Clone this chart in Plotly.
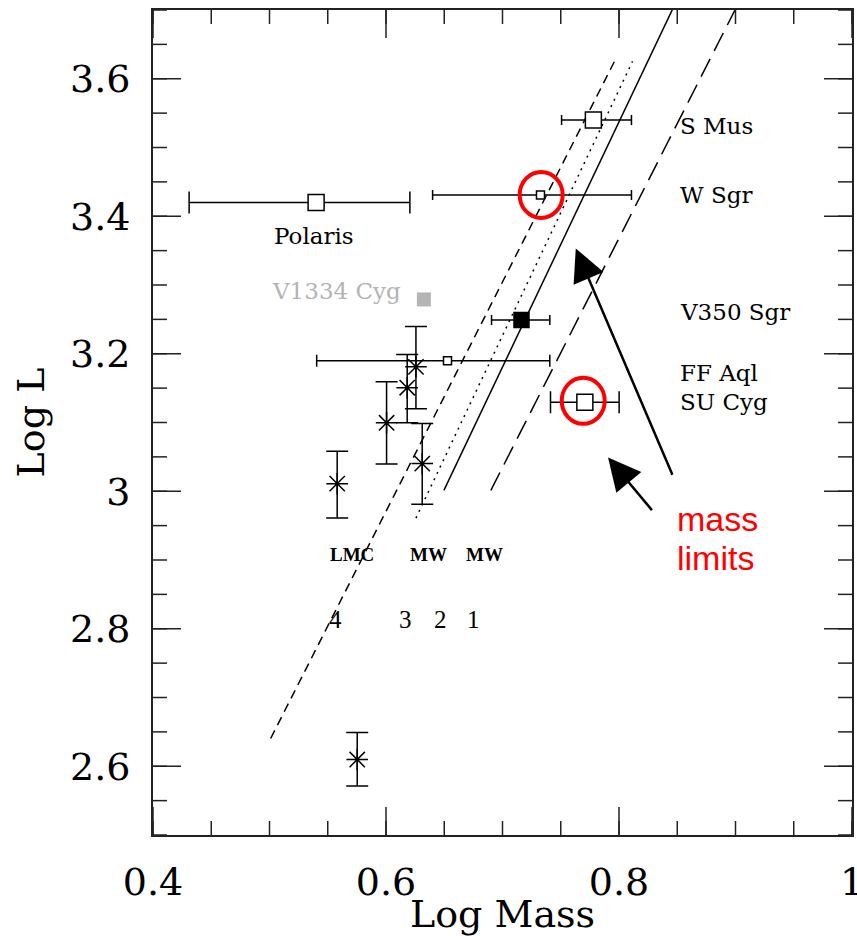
import plotly.graph_objects as go

# ---------------- data ----------------
x_tickvals = [0.4, 0.6, 0.8, 1.0]
x_ticktext = ["0.4", "0.6", "0.8", "1"]
y_tickvals = [2.6, 2.8, 3.0, 3.2, 3.4, 3.6]
y_ticktext = ["2.6", "2.8", "3", "3.2", "3.4", "3.6"]
x_minor = [round(0.40 + 0.05 * i, 2) for i in range(13)]
y_minor = [round(2.50 + 0.05 * i, 2) for i in range(25)]

# Cepheids with dynamical masses (log M, log L, log M range)
cep_names = ["Polaris", "S Mus", "W Sgr", "FF Aql", "SU Cyg", "V350 Sgr"]
cep_logm = [0.540, 0.778, 0.7326, 0.6528, 0.7707, 0.7163]
cep_logl = [3.420, 3.540, 3.431, 3.190, 3.1296, 3.249]
cep_m_lo = [0.431, 0.7507, 0.640, 0.5405, 0.7412, 0.6906]
cep_m_hi = [0.6205, 0.8107, 0.8107, 0.7406, 0.8001, 0.7406]

# V1334 Cyg (grey point)
v1334_logm = [0.6325]
v1334_logl = [3.279]

# other stars (asterisks)
ast_logm = [0.5581, 0.6005, 0.6182, 0.6257, 0.6311, 0.5753]
ast_logl = [3.011, 3.0996, 3.1506, 3.181, 3.0402, 2.6098]
ast_l_hi = [3.0582, 3.1593, 3.199, 3.2395, 3.0985, 2.649]
ast_l_lo = [2.961, 3.0398, 3.0996, 3.120, 2.981, 2.5713]

# mass-luminosity relations 4 (LMC), 3, 2, 1 (MW)
rel_names = ["4", "3", "2", "1"]
rel_m = [[0.501, 0.7964], [0.6257, 0.8116], [0.6497, 0.8462], [0.690, 0.8994]]
rel_l = [[2.6404, 3.6262], [2.961, 3.6252], [3.0013, 3.702], [3.0013, 3.6995]]

# right-hand star labels
lab_names = ["S Mus", "W Sgr", "V350 Sgr", "FF Aql", "SU Cyg"]
lab_x = [0.8505, 0.8505, 0.8505, 0.8505, 0.8505]
lab_y = [3.532, 3.4314, 3.2611, 3.1714, 3.1299]

# relation labels
rel_lab_text = ["LMC", "MW", "MW"]
rel_lab_x = [0.5705, 0.6362, 0.6849]
rel_lab_y = [2.908, 2.908, 2.908]
rel_num_x = [0.5570, 0.6168, 0.6471, 0.6748]
rel_num_y = [2.8128, 2.8128, 2.8128, 2.8128]

# red highlight circles (centres)
circ_x = [0.7332, 0.7693]
circ_y = [3.431, 3.1316]

# arrows: tip and tail
arr_tip_x = [0.7629, 0.7906]
arr_tip_y = [3.3532, 3.0491]
arr_tail_x = [0.8464, 0.8293]
arr_tail_y = [3.0218, 2.9704]

X_RANGE = [0.4, 1.0]
Y_RANGE = [2.5, 3.7]

# ---------------- styles ----------------
SERIF = "DejaVu Serif"
AXC = "#222222"
cep_style = {
    "Polaris": dict(size=16, fill="white", cap=11),
    "S Mus": dict(size=16, fill="white", cap=5),
    "W Sgr": dict(size=8, fill="white", cap=5),
    "FF Aql": dict(size=8, fill="white", cap=6),
    "SU Cyg": dict(size=16, fill="white", cap=11),
    "V350 Sgr": dict(size=15, fill="black", cap=5),
}
rel_dash = {"4": "9px,6px", "3": "2px,5px", "2": "solid", "1": "20px,9px"}

fig = go.Figure()


# inward tick marks on all four sides (half of each marker is clipped by the plot area)
def add_ticks(vals, size):
    n = len(vals)
    specs = [
        (vals, [Y_RANGE[0]] * n, "line-ns"),
        (vals, [Y_RANGE[1]] * n, "line-ns"),
    ]
    for xs, ys, sym in specs:
        fig.add_trace(go.Scatter(x=xs, y=ys, mode="markers", cliponaxis=True,
                                 marker=dict(symbol=sym, size=size,
                                             line=dict(color=AXC, width=1.5)),
                                 showlegend=False, hoverinfo="skip"))


def add_yticks(vals, size):
    n = len(vals)
    for xe in X_RANGE:
        fig.add_trace(go.Scatter(x=[xe] * n, y=vals, mode="markers", cliponaxis=True,
                                 marker=dict(symbol="line-ew", size=size,
                                             line=dict(color=AXC, width=1.5)),
                                 showlegend=False, hoverinfo="skip"))


add_ticks(x_minor, 20)
add_ticks(x_tickvals, 40)
add_yticks(y_minor, 20)
add_yticks(y_tickvals, 40)

for n, m, l in zip(rel_names, rel_m, rel_l):
    fig.add_trace(go.Scatter(x=m, y=l, mode="lines",
                             line=dict(color="black", width=1.5, dash=rel_dash[n]),
                             showlegend=False, hoverinfo="skip"))

for n, m, l, lo, hi in zip(cep_names, cep_logm, cep_logl, cep_m_lo, cep_m_hi):
    st = cep_style[n]
    fig.add_trace(go.Scatter(
        x=[m], y=[l], mode="markers",
        marker=dict(symbol="square", size=st["size"], color=st["fill"],
                    line=dict(color="black", width=1.5)),
        error_x=dict(type="data", symmetric=False, array=[hi - m], arrayminus=[m - lo],
                     color="black", thickness=1.5, width=st["cap"]),
        showlegend=False, name=n))

fig.add_trace(go.Scatter(x=v1334_logm, y=v1334_logl, mode="markers",
                         marker=dict(symbol="square", size=14, color="#b4b4b4",
                                     line=dict(width=0)),
                         showlegend=False, name="V1334 Cyg"))

fig.add_trace(go.Scatter(
    x=ast_logm, y=ast_logl, mode="markers",
    marker=dict(symbol="asterisk-open", size=18, color="black",
                line=dict(color="black", width=1.5)),
    error_y=dict(type="data", symmetric=False,
                 array=[h - v for h, v in zip(ast_l_hi, ast_logl)],
                 arrayminus=[v - lo for v, lo in zip(ast_logl, ast_l_lo)],
                 color="black", thickness=1.5, width=11),
    showlegend=False))

ann = []
for t, x, y in zip(lab_names, lab_x, lab_y):
    ann.append(dict(x=x, y=y, text=t, showarrow=False, xanchor="left", yanchor="middle",
                    font=dict(family=SERIF, size=23, color="black")))
ann.append(dict(x=0.5381, y=3.3716, text="Polaris", showarrow=False, xanchor="center",
                yanchor="middle", font=dict(family=SERIF, size=23, color="black")))
ann.append(dict(x=0.5004, y=3.2914, text="V1334 Cyg", showarrow=False, xanchor="left",
                yanchor="middle", font=dict(family=SERIF, size=23, color="#b4b4b4")))
for t, x, y in zip(rel_lab_text, rel_lab_x, rel_lab_y):
    ann.append(dict(x=x, y=y, text="<b>%s</b>" % t, showarrow=False, xanchor="center",
                    yanchor="middle", font=dict(family="Liberation Serif", size=19, color="black")))
for t, x, y in zip(rel_names, rel_num_x, rel_num_y):
    ann.append(dict(x=x, y=y, text=t, showarrow=False, xanchor="center", yanchor="middle",
                    font=dict(family="Liberation Serif", size=25, color="black")))
ann.append(dict(x=0.8479, y=2.960, text="mass", showarrow=False, xanchor="left",
                yanchor="middle", font=dict(family="Liberation Sans", size=34, color="red")))
ann.append(dict(x=0.8479, y=2.903, text="limits", showarrow=False, xanchor="left",
                yanchor="middle", font=dict(family="Liberation Sans", size=34, color="red")))
for tx, ty, ax, ay in zip(arr_tip_x, arr_tip_y, arr_tail_x, arr_tail_y):
    ann.append(dict(x=tx, y=ty, ax=ax, ay=ay, xref="x", yref="y", axref="x", ayref="y",
                    text="", showarrow=True, arrowhead=2, arrowsize=2.6, arrowwidth=2.5,
                    arrowcolor="black", standoff=0))

shapes = []
for cx, cy in zip(circ_x, circ_y):
    shapes.append(dict(type="circle", xref="x", yref="y", xsizemode="pixel",
                       ysizemode="pixel", xanchor=cx, yanchor=cy,
                       x0=-21.5, x1=21.5, y0=-23, y1=23,
                       line=dict(color="red", width=4)))

fig.update_layout(
    xaxis=dict(range=X_RANGE, tickmode="array", tickvals=x_tickvals, ticktext=x_ticktext,
               showline=True, linecolor=AXC, linewidth=2, mirror=True, ticks="",
               showgrid=False, zeroline=False,
               tickfont=dict(family=SERIF, size=38, color="black"),
               ticklabelstandoff=12, ticklabeloverflow="allow", automargin=False,
               title=dict(text="Log Mass", font=dict(family=SERIF, size=38, color="black"),
                          standoff=2)),
    yaxis=dict(range=Y_RANGE, tickmode="array", tickvals=y_tickvals, ticktext=y_ticktext,
               showline=True, linecolor=AXC, linewidth=2, mirror=True, ticks="",
               showgrid=False, zeroline=False,
               tickfont=dict(family=SERIF, size=38, color="black"),
               ticklabelstandoff=13, automargin=False,
               title=dict(text="Log L", font=dict(family=SERIF, size=38, color="black"),
                          standoff=14)),
    width=857, height=936, margin=dict(l=153, r=5, t=10, b=101),
    paper_bgcolor="white", plot_bgcolor="white",
    annotations=ann, shapes=shapes, showlegend=False,
)

fig.write_html("out.html")
